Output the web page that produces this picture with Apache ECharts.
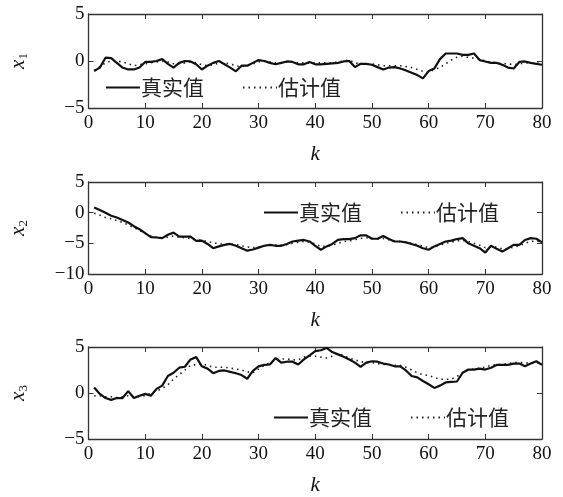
<!DOCTYPE html>
<html><head><meta charset="utf-8">
<script src="https://cdn.jsdelivr.net/npm/echarts@6/dist/echarts.min.js"></script>
<style>html,body{margin:0;padding:0;background:#fff}#c{width:563px;height:497px}</style>
</head><body><div id="c"></div>
<script>
const legendNames = ['真实值', '估计值'];
const yNames = ['x', 'x', 'x'];
const ySubs = ['1', '2', '3'];
const x1True = [-1.07,-0.7,0.35,0.3,-0.2,-0.7,-0.9,-0.9,-0.7,-0.1,-0.1,0,0.2,-0.3,-0.7,-0.2,0,-0.05,-0.35,-0.9,-0.5,-0.2,0,-0.35,-0.7,-1.1,-0.5,-0.5,-0.2,0.1,0,-0.2,-0.35,-0.2,-0.05,-0.1,-0.35,-0.35,-0.1,-0.35,-0.35,-0.3,-0.25,-0.2,-0.05,0,-0.65,-0.3,-0.3,-0.4,-0.65,-0.9,-0.7,-0.65,-0.8,-1.0,-1.25,-1.5,-1.85,-1.07,-0.8,0.2,0.8,0.8,0.8,0.65,0.65,0.8,0.1,-0.05,-0.2,-0.2,-0.4,-0.7,-0.8,-0.1,-0.05,-0.2,-0.3,-0.4];
const x1Est = [-1.0,-0.6,-0.2,0,0,-0.1,-0.3,-0.5,-0.4,-0.3,-0.2,-0.1,0,-0.1,-0.3,-0.3,-0.2,-0.1,-0.2,-0.4,-0.5,-0.4,-0.2,-0.2,-0.3,-0.5,-0.6,-0.5,-0.3,-0.1,0,-0.1,-0.2,-0.2,-0.1,-0.1,-0.2,-0.2,-0.2,-0.2,-0.2,-0.2,-0.2,-0.1,0,0.1,-0.2,-0.3,-0.3,-0.3,-0.4,-0.5,-0.5,-0.5,-0.5,-0.6,-0.7,-0.9,-1.1,-1.2,-0.9,-0.7,-0.3,0.1,0.4,0.5,0.4,0.3,0.2,0,-0.1,-0.2,-0.3,-0.3,-0.4,-0.3,-0.2,-0.2,-0.2,-0.3];
const x2True = [0.85,0.45,0,-0.5,-0.8,-1.2,-1.6,-2.2,-2.7,-3.35,-4.0,-4.05,-4.15,-3.6,-3.25,-3.9,-3.9,-3.9,-4.6,-4.55,-5.1,-5.8,-5.5,-5.25,-5.1,-5.4,-5.8,-6.2,-6.0,-5.7,-5.4,-5.25,-5.4,-5.4,-5.1,-4.7,-4.55,-4.45,-4.7,-5.4,-6.05,-5.5,-5.1,-4.45,-4.3,-4.3,-4.15,-3.7,-3.7,-4.25,-4.25,-3.8,-4.3,-4.7,-4.7,-4.85,-5.1,-5.4,-5.8,-6.05,-5.5,-5.1,-4.7,-4.55,-4.3,-4.15,-5.0,-5.4,-5.8,-6.5,-5.4,-5.9,-6.35,-5.8,-5.25,-5.25,-4.45,-4.15,-4.25,-4.85];
const x2Est = [-0.1,-0.4,-0.8,-1.0,-1.3,-1.6,-2.0,-2.4,-2.9,-3.4,-3.8,-4.0,-4.1,-4.0,-3.8,-4.0,-4.1,-4.2,-4.4,-4.5,-4.7,-4.9,-5.1,-5.1,-5.1,-5.2,-5.4,-5.6,-5.7,-5.6,-5.4,-5.3,-5.3,-5.3,-5.2,-5.0,-4.8,-4.7,-4.8,-5.1,-5.5,-5.5,-5.3,-5.0,-4.7,-4.6,-4.4,-4.2,-4.1,-4.2,-4.3,-4.2,-4.4,-4.6,-4.7,-4.8,-5.0,-5.2,-5.5,-5.7,-5.6,-5.3,-5.0,-4.8,-4.6,-4.5,-4.7,-5.0,-5.3,-5.7,-5.6,-5.6,-5.9,-5.9,-5.6,-5.4,-5.0,-4.7,-4.6,-4.8];
const x3True = [0.6,-0.1,-0.55,-0.75,-0.55,-0.55,0.2,-0.55,-0.3,-0.1,-0.3,0.45,0.8,1.85,2.2,2.75,2.85,3.65,3.9,2.9,2.65,2.15,2.4,2.45,2.3,2.15,1.95,1.55,2.4,2.9,3.05,3.1,3.8,3.3,3.4,3.4,3.1,3.65,4.1,4.55,4.65,4.9,4.45,4.2,3.95,3.65,3.3,2.85,3.3,3.45,3.4,3.2,3.1,2.9,2.9,2.45,1.85,1.7,1.3,0.95,0.55,0.8,1.15,1.2,1.25,2.2,2.55,2.55,2.65,2.55,2.75,3.05,3.05,3.05,3.2,3.2,2.9,3.2,3.45,3.05];
const x3Est = [-0.3,-0.3,-0.4,-0.4,-0.5,-0.4,-0.3,-0.4,-0.4,-0.3,0,0.2,0.5,0.9,1.5,2.0,2.5,3.0,3.1,3.2,3.0,2.8,2.8,2.8,2.7,2.6,2.5,2.3,2.2,2.6,3.0,3.3,3.6,3.7,3.7,3.6,3.6,3.9,4.0,4.0,3.9,3.8,4.0,4.3,4.1,3.8,3.6,3.4,3.3,3.3,3.2,3.1,3.1,3.0,3.0,2.8,2.5,2.2,2.0,1.9,1.7,1.5,1.5,1.5,1.8,2.2,2.5,2.6,2.7,2.8,3.0,3.1,3.1,3.2,3.3,3.3,3.3,3.2,3.3,3.2];
const xTicks = [0,10,20,30,40,50,60,70,80];
const yMins = [-5,-10,-5];
const yMaxs = [5,5,5];
const yIntervals = [5,5,5];

const trueSets = [x1True, x2True, x3True];
const estSets = [x1Est, x2Est, x3Est];
const grids = [
  {left: 88, right: 21, top: 14, height: 94},
  {left: 88, right: 21, top: 182, height: 92},
  {left: 88, right: 21, top: 347, height: 93}
];
const legendPos = [
  {left: 100, top: 72},
  {left: 258, top: 197},
  {left: 268, top: 402}
];
const serif = 'Liberation Serif';
const axCol = '#333';
const xAxis = [], yAxis = [], series = [], legend = [];
const pairs = arr => arr.map((v, i) => [i + 1, v]);
const fmt = v => String(v).replace('-', '\u2212');
for (let p = 0; p < 3; p++) {
  xAxis.push({
    gridIndex: p, type: 'value', min: xTicks[0], max: xTicks[xTicks.length-1], interval: 10,
    position: 'bottom', name: 'k', nameLocation: 'middle', nameGap: 36,
    nameTextStyle: {fontFamily: serif, fontStyle: 'italic', fontSize: 21, color: '#111'},
    axisLine: {onZero: false, lineStyle: {color: axCol, width: 1.3}},
    axisTick: {inside: true, length: 5, lineStyle: {color: axCol}},
    axisLabel: {fontFamily: serif, fontSize: 19, color: '#111', margin: 6, formatter: fmt},
    splitLine: {show: false}
  });
  xAxis.push({
    gridIndex: p, type: 'value', min: xTicks[0], max: xTicks[xTicks.length-1], interval: 10,
    position: 'top',
    axisLine: {onZero: false, lineStyle: {color: axCol, width: 1.3}},
    axisTick: {inside: true, length: 5, lineStyle: {color: axCol}},
    axisLabel: {show: false}, splitLine: {show: false}
  });
  yAxis.push({
    gridIndex: p, type: 'value', min: yMins[p], max: yMaxs[p], interval: yIntervals[p],
    position: 'left',
    name: '{i|' + yNames[p] + '}{s|' + ySubs[p] + '}', nameLocation: 'middle', nameGap: 58, nameRotate: 90,
    nameTextStyle: {
      rich: {
        i: {fontFamily: serif, fontStyle: 'italic', fontSize: 21, color: '#111', lineHeight: 24},
        s: {fontFamily: serif, fontSize: 13, color: '#111', lineHeight: 14, verticalAlign: 'bottom'}
      }
    },
    axisLine: {onZero: false, lineStyle: {color: axCol, width: 1.3}},
    axisTick: {inside: true, length: 5, lineStyle: {color: axCol}},
    axisLabel: {fontFamily: serif, fontSize: 19, color: '#111', margin: 4, formatter: fmt},
    splitLine: {show: false}
  });
  yAxis.push({
    gridIndex: p, type: 'value', min: yMins[p], max: yMaxs[p], interval: yIntervals[p],
    position: 'right',
    axisLine: {onZero: false, lineStyle: {color: axCol, width: 1.3}},
    axisTick: {inside: true, length: 5, lineStyle: {color: axCol}},
    axisLabel: {show: false}, splitLine: {show: false}
  });
  series.push({
    name: legendNames[0], type: 'line', xAxisIndex: p*2, yAxisIndex: p*2,
    data: pairs(trueSets[p]), symbol: 'none', lineStyle: {color: '#111', width: 2.2}, color: '#111', z: 3
  });
  series.push({
    name: legendNames[1], type: 'line', xAxisIndex: p*2, yAxisIndex: p*2,
    data: pairs(estSets[p]), symbol: 'none', lineStyle: {color: '#222', width: 1.6, type: [1.5, 4]}, color: '#222', z: 2
  });
  legend.push({
    data: legendNames, left: legendPos[p].left, top: legendPos[p].top, itemGap: 38,
    itemWidth: 34, itemHeight: 16,
    itemStyle: {color: 'rgba(0,0,0,0)', borderWidth: 0, opacity: 0},
    textStyle: {fontFamily: 'Noto Sans CJK SC', fontSize: 21, color: '#222', padding: [0,0,0,-4]},
    selectedMode: false
  });
}
const chart = echarts.init(document.getElementById('c'));
chart.setOption({
  animation: false, backgroundColor: '#fff',
  grid: grids, xAxis, yAxis, series, legend
});
</script></body></html>
